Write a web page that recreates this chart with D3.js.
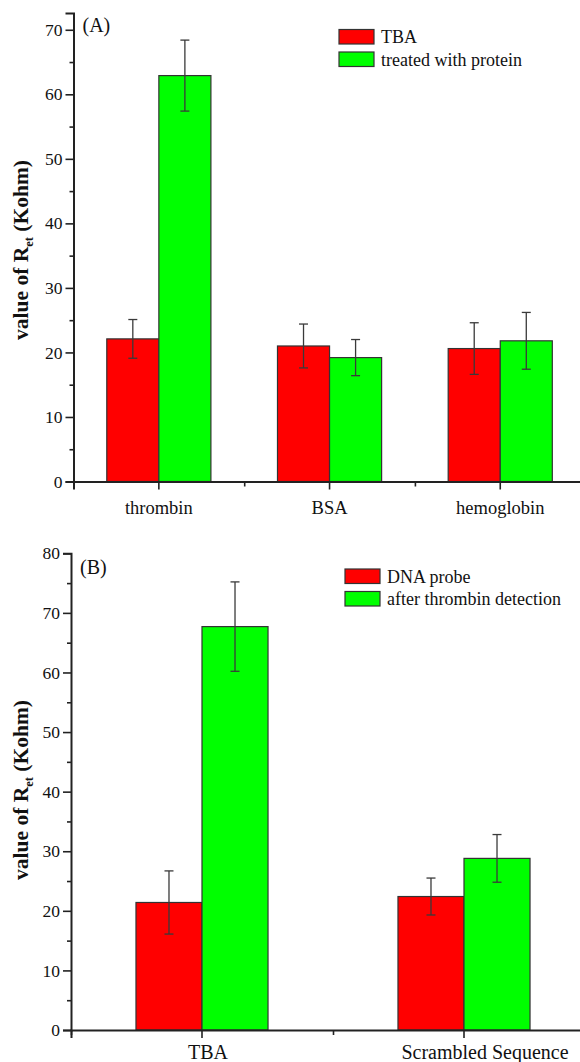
<!DOCTYPE html>
<html>
<head>
<meta charset="utf-8">
<script src="https://cdn.jsdelivr.net/npm/d3@7"></script>
<style>
  body { margin: 0; background: #fff; }
  text { font-family: "Liberation Serif", "Times New Roman", "DejaVu Serif", serif; fill: #111; }
</style>
</head>
<body>
<div id="chart"></div>
<script>
// ---- data ----
var catsA = ["thrombin", "BSA", "hemoglobin"];
var seriesA = ["TBA", "treated with protein"];
var tbaA = [22.1, 21.0, 20.6];
var tbaErrA = [3.0, 3.4, 4.0];
var proteinA = [62.9, 19.2, 21.8];
var proteinErrA = [5.5, 2.8, 4.4];
var ticksA = [0, 10, 20, 30, 40, 50, 60, 70];

var catsB = ["TBA", "Scrambled Sequence"];
var seriesB = ["DNA probe", "after thrombin detection"];
var probeB = [21.4, 22.4];
var probeErrB = [5.3, 3.1];
var detectB = [67.7, 28.8];
var detectErrB = [7.5, 4.0];
var ticksB = [0, 10, 20, 30, 40, 50, 60, 70, 80];

var colors = ["#ff0000", "#00ff00"];
var serif = "'Liberation Serif', 'Times New Roman', serif";

var svg = d3.select("#chart")
  .append("svg")
    .attr("width", 580)
    .attr("height", 1062);

function drawPanel(p) {
  var g = svg.append("g");
  var n = p.cats.length;

  var y = d3.scaleLinear().domain([0, p.ymax]).range([p.y0, p.ytop]);

  var x = d3.scaleBand()
    .domain(p.cats)
    .range([p.x0, p.x0 + n * p.step])
    .paddingInner(p.pad)
    .paddingOuter(p.pad / 2);

  var xs = d3.scaleBand()
    .domain(p.series)
    .range([0, x.bandwidth()]);

  // linear helper for the minor ticks between categories
  var xl = d3.scaleLinear().domain([0, n]).range([p.x0, p.x0 + n * p.step]);

  var rows = p.cats.map(function(c, i) {
    return [
      {cat: c, s: p.series[0], v: p.vals[0][i], e: p.errs[0][i], k: 0},
      {cat: c, s: p.series[1], v: p.vals[1][i], e: p.errs[1][i], k: 1}
    ];
  });
  var flat = [].concat.apply([], rows);

  // bars
  g.selectAll("rect.bar")
    .data(flat)
    .enter()
    .append("rect")
      .attr("class", "bar")
      .attr("x", function(d) { return x(d.cat) + xs(d.s); })
      .attr("y", function(d) { return y(d.v); })
      .attr("width", xs.bandwidth())
      .attr("height", function(d) { return y(0) - y(d.v); })
      .style("fill", function(d) { return colors[d.k]; })
      .style("stroke", "#333")
      .style("stroke-width", 1.2);

  // error bars
  var eb = g.selectAll("g.err")
    .data(flat)
    .enter()
    .append("g")
      .attr("class", "err")
      .style("stroke", "#3a3a3a")
      .style("stroke-width", 1.3);
  var cx = function(d) { return x(d.cat) + xs(d.s) + xs.bandwidth() / 2; };
  eb.append("line")
    .attr("x1", cx).attr("x2", cx)
    .attr("y1", function(d) { return y(d.v - d.e); })
    .attr("y2", function(d) { return y(d.v + d.e); });
  eb.append("line")
    .attr("x1", function(d) { return cx(d) - 4.5; })
    .attr("x2", function(d) { return cx(d) + 4.5; })
    .attr("y1", function(d) { return y(d.v + d.e); })
    .attr("y2", function(d) { return y(d.v + d.e); });
  eb.append("line")
    .attr("x1", function(d) { return cx(d) - 4.5; })
    .attr("x2", function(d) { return cx(d) + 4.5; })
    .attr("y1", function(d) { return y(d.v - d.e); })
    .attr("y2", function(d) { return y(d.v - d.e); });

  // y axis, major + minor
  var minorY = d3.range(5, p.ymax, 10);
  g.append("g")
    .attr("transform", "translate(" + p.x0 + ",0)")
    .call(d3.axisLeft(y).tickValues(minorY).tickSize(4).tickFormat(""))
    .call(function(a) { a.select(".domain").remove(); });
  var ya = g.append("g")
    .attr("transform", "translate(" + p.x0 + ",0)")
    .call(d3.axisLeft(y).tickValues(p.ticks).tickSizeOuter(0).tickSize(8).tickPadding(3));
  ya.attr("font-family", serif);
  ya.selectAll("text").style("font-size", "17.5px");

  // x axis, major at categories + minor at boundaries
  g.append("g")
    .attr("transform", "translate(0," + p.y0 + ")")
    .call(d3.axisBottom(xl).tickValues(d3.range(0, n + 1)).tickSize(5).tickFormat(""))
    .call(function(a) { a.select(".domain").remove(); });
  var xa = g.append("g")
    .attr("transform", "translate(0," + p.y0 + ")")
    .call(d3.axisBottom(x).tickSizeOuter(0).tickSize(8).tickPadding(p.xpad));
  xa.attr("font-family", serif);
  xa.selectAll("text")
    .style("font-size", p.xFont + "px")
    .attr("dx", function(d, i) { return p.labelShift[i]; });

  svg.selectAll(".domain").style("stroke", "#222").style("stroke-width", 2);
  svg.selectAll(".tick line").style("stroke", "#222").style("stroke-width", 1.6);

  // y label with subscript
  var yl = g.append("text")
    .attr("transform", "translate(28," + p.ylabelY + ") rotate(-90)")
    .style("text-anchor", "middle")
    .style("font-weight", "bold")
    .style("font-size", "21.5px");
  yl.append("tspan").text("value of R");
  yl.append("tspan").text("et").attr("dy", 5).style("font-size", "12.5px");
  yl.append("tspan").text(" (Kohm)").attr("dy", -5);

  // panel letter
  g.append("text")
    .attr("x", p.x0 + 9)
    .attr("y", p.letterY)
    .style("font-size", "20px")
    .text(p.letter);

  // legend
  var lg = g.selectAll("g.leg")
    .data(p.series)
    .enter()
    .append("g")
      .attr("transform", function(d, i) {
        return "translate(" + p.legX + "," + (p.legY + i * 22.5) + ")";
      });
  lg.append("rect")
    .attr("width", 35).attr("height", 14.5)
    .style("fill", function(d, i) { return colors[i]; })
    .style("stroke", "#333").style("stroke-width", 1.2);
  lg.append("text")
    .attr("x", 42).attr("y", 13.5)
    .style("font-size", "18px")
    .text(function(d) { return d; });
}

drawPanel({
  cats: catsA, series: seriesA,
  vals: [tbaA, proteinA], errs: [tbaErrA, proteinErrA],
  ticks: ticksA, ymax: 72.6,
  x0: 73.5, step: 170.7, pad: 0.39,
  y0: 481.5, ytop: 13,
  xpad: 11, xFont: 18.5, labelShift: [0, 0, 0],
  ylabelY: 250, letter: "(A)", letterY: 32,
  legX: 339, legY: 29.5
});

drawPanel({
  cats: catsB, series: seriesB,
  vals: [probeB, detectB], errs: [probeErrB, detectErrB],
  ticks: ticksB, ymax: 80,
  x0: 71, step: 262, pad: 0.496,
  y0: 1030, ytop: 553.3,
  xpad: 6.5, xFont: 20, labelShift: [6, 21],
  ylabelY: 790, letter: "(B)", letterY: 574,
  legX: 345, legY: 569
});
</script>
</body>
</html>
